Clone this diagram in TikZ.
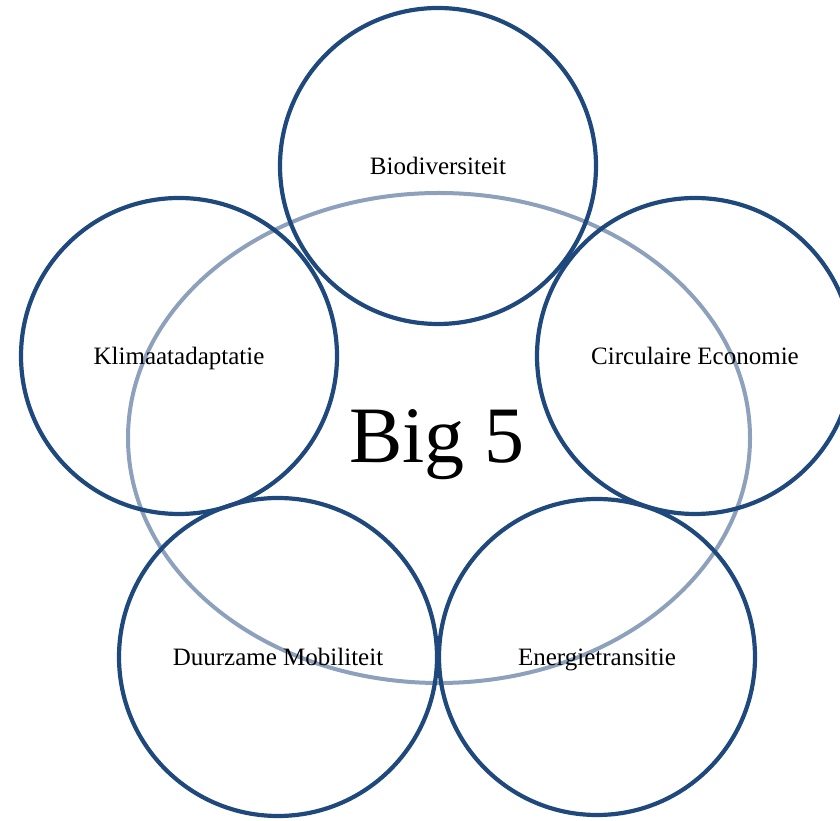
\documentclass[tikz,border=0pt]{standalone}
\usepackage{fontspec}
\setmainfont{Liberation Serif}
\usepackage{tikz}
\definecolor{topicblue}{RGB}{31,73,125}
\definecolor{ringgray}{RGB}{141,160,188}

\begin{document}
\begin{tikzpicture}[x=1pt,y=1pt,
	topic/.style={draw=topicblue, line width=4.2pt},
	label/.style={font=\fontsize{25}{30}\selectfont, inner sep=0pt, text height=18pt, text depth=0pt}]
	\clip (0,0) rectangle (840,821);       % picture frame, cuts the right circle
	\draw[ringgray, line width=4pt] (439,383) ellipse (311 and 245);
	\node[font=\fontsize{80}{90}\selectfont, anchor=base] (big) at (437,358) {Big 5};
	\draw[topic] (438,655) circle (158) node[label] (bio) {Biodiversiteit};
	\draw[topic] (179,465) circle (158) node[label] (klimaat) {Klimaatadaptatie};
	\draw[topic] (695,465) circle (158) node[label] (circulair) {Circulaire Economie};
	\draw[topic] (278,164) circle (159) node[label] (mobiliteit) {Duurzame Mobiliteit};
	\draw[topic] (597,164) circle (158) node[label] (energie) {Energietransitie};
\end{tikzpicture}
\end{document}
